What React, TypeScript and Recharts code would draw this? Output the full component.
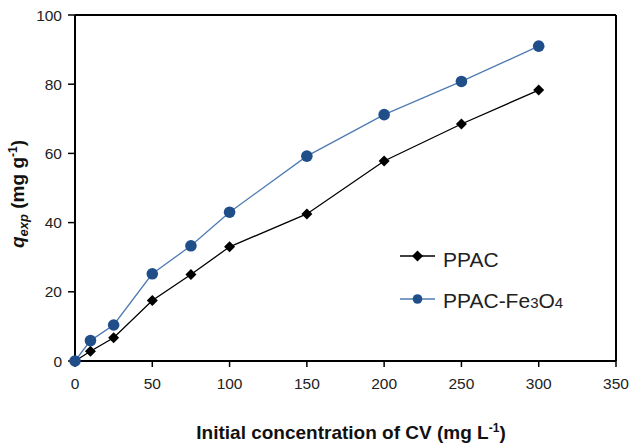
import { LineChart, Line, XAxis, YAxis, ReferenceLine } from 'recharts';

const concentrations = [0, 10, 25, 50, 75, 100, 150, 200, 250, 300];
const ppac = [0, 2.8, 6.7, 17.5, 25, 33, 42.5, 57.8, 68.5, 78.3];
const ppacFe3O4 = [0, 5.9, 10.4, 25.2, 33.3, 43, 59.2, 71.2, 80.8, 91];
const xTicks = [0, 50, 100, 150, 200, 250, 300, 350];
const yTicks = [0, 20, 40, 60, 80, 100];

const BLACK = '#000000';
const BLUE_MARK = '#1f4e89';
const BLUE_LINE = '#4f7bb4';
const FONT = '"Liberation Sans", Arial, sans-serif';

const data = concentrations.map((c, i) => ({ c, ppac: ppac[i], fe: ppacFe3O4[i] }));

function Diamond(props: any) {
  const { cx, cy } = props;
  if (cx == null || cy == null) return null;
  const s = 5.5;
  return <path d={`M${cx},${cy - s}L${cx + s},${cy}L${cx},${cy + s}L${cx - s},${cy}Z`} fill={BLACK} />;
}

function Dot(props: any) {
  const { cx, cy } = props;
  if (cx == null || cy == null) return null;
  return <circle cx={cx} cy={cy} r={5.8} fill={BLUE_MARK} />;
}

// legend drawn separately so recharts doesn't reserve room for it
function LegendBox() {
  return (
    <svg width={220} height={80} style={{ position: 'absolute', left: 400, top: 240, overflow: 'visible' }}>
      <line x1={0} y1={16} x2={35} y2={16} stroke={BLACK} strokeWidth={1.3} />
      <Diamond cx={17.5} cy={16} />
      <text x={43} y={27} fontFamily={FONT} fontSize={21} fill="#222">PPAC</text>
      <line x1={0} y1={59} x2={35} y2={59} stroke={BLUE_LINE} strokeWidth={1.3} />
      <circle cx={17.5} cy={59} r={4.8} fill={BLUE_MARK} />
      <text x={43} y={68} fontFamily={FONT} fontSize={21} fill="#222">
        PPAC-Fe<tspan fontSize={15}>3</tspan>O<tspan fontSize={15}>4</tspan>
      </text>
    </svg>
  );
}

export default function App() {
  return (
    <div style={{ position: 'absolute', left: 0, top: 0, width: 633, height: 443, background: 'white' }}>
      <LineChart width={633} height={443} data={data} margin={{ top: 15, right: 17, bottom: 0, left: 0 }}>
        <XAxis
          dataKey="c"
          type="number"
          domain={[0, 350]}
          ticks={xTicks}
          axisLine={{ stroke: BLACK, strokeWidth: 2 }}
          tickLine={{ stroke: BLACK, strokeWidth: 1.5 }}
          tickSize={6}
          tickMargin={11}
          tick={{ fill: '#222', fontSize: 15.5, fontFamily: FONT }}
          height={82}
          label={() => (
            <text x={351} y={439} textAnchor="middle" fontFamily={FONT} fontSize={19} fontWeight="bold" fill="#111">
              Initial concentration of CV (mg L<tspan fontSize={12} dy={-7}>-1</tspan><tspan dy={7}>)</tspan>
            </text>
          )}
        />
        <YAxis
          type="number"
          domain={[0, 100]}
          ticks={yTicks}
          width={75}
          axisLine={{ stroke: BLACK, strokeWidth: 2 }}
          tickLine={{ stroke: BLACK, strokeWidth: 1.5 }}
          tickSize={7}
          tickMargin={6}
          tick={{ fill: '#222', fontSize: 15.5, fontFamily: FONT }}
          label={() => (
            <text x={0} y={0} transform="translate(24,194) rotate(-90)" textAnchor="middle" fontFamily={FONT} fontSize={19} fontWeight="bold" fill="#111">
              <tspan fontStyle="italic">q</tspan>
              <tspan fontStyle="italic" fontSize={13} dy={4}>exp</tspan>
              <tspan dy={-4}> (mg g</tspan>
              <tspan fontSize={12} dy={-7}>-1</tspan>
              <tspan dy={7}>)</tspan>
            </text>
          )}
        />
        <ReferenceLine y={100} stroke={BLACK} strokeWidth={2} />
        <ReferenceLine x={350} stroke={BLACK} strokeWidth={2} />
        <Line
          type="linear"
          dataKey="ppac"
          name="PPAC"
          stroke={BLACK}
          strokeWidth={1.3}
          dot={<Diamond />}
          isAnimationActive={false}
        />
        <Line
          type="linear"
          dataKey="fe"
          name="PPAC-Fe3O4"
          stroke={BLUE_LINE}
          strokeWidth={1.3}
          dot={<Dot />}
          isAnimationActive={false}
        />
      </LineChart>
      <LegendBox />
    </div>
  );
}
